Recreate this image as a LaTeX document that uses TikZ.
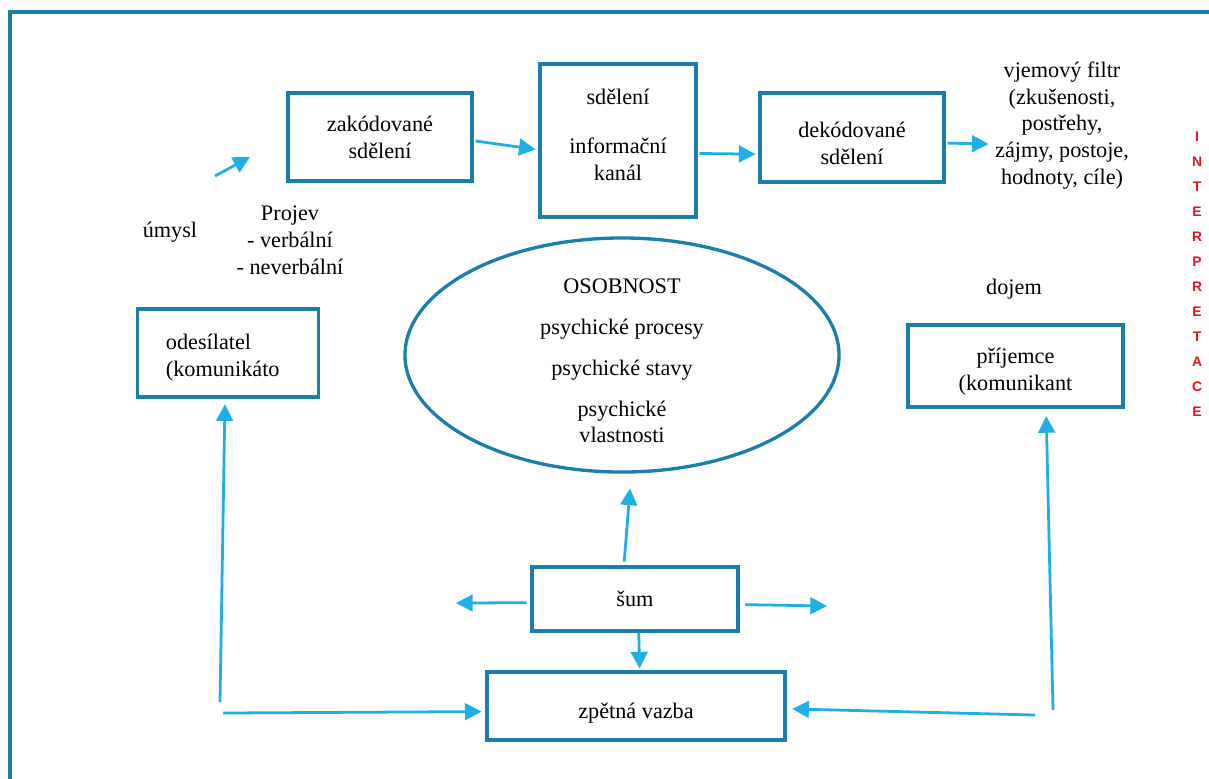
\documentclass[tikz,border=0pt]{standalone}
\usepackage{fontspec}
\setmainfont{Liberation Serif}
\newfontfamily\interfont{Liberation Sans}
\usetikzlibrary{arrows.meta,shapes.geometric}
\definecolor{boxblue}{HTML}{1A80AB}
\definecolor{arrowblue}{HTML}{1FAFE5}
\definecolor{interred}{HTML}{E8141C}
\begin{document}
\begin{tikzpicture}[x=0.54pt, y=-0.54pt, >={Triangle[length=9pt,width=9pt]},
        font=\fontsize{12}{14.5}\selectfont,
        box/.style={draw=boxblue, line width=1.8pt, align=center, inner sep=0pt},
        link/.style={->, arrowblue, line width=1.5pt}]
        \useasboundingbox (0,0) rectangle (1209,778);
        \draw[boxblue, line width=2pt] (1230,12) -- (10,12) -- (10,800);

        \node[box, minimum width=99.4pt, minimum height=47.5pt] (zakod) at (380,137) {zakódované\\sdělení};
        \node[box, minimum width=84.2pt, minimum height=82.6pt] (kanal) at (618,140.5) {sdělení\\[12pt]informační\\kanál\\[-8pt]\mbox{}};
        \node[box, minimum width=99.4pt, minimum height=48.1pt] (dekod) at (852,137.5) {\mbox{}\\dekódované\\sdělení};
        \node[align=center] (filtr) at (1062,125.5) {vjemový filtr\\(zkušenosti,\\postřehy,\\zájmy, postoje,\\hodnoty, cíle)};
        \node (umysl) at (170,232) {úmysl};
        \node[align=center] (projev) at (290,240) {Projev\\- verbální\\- neverbální};
        \node[box, align=left, text width=67pt, inner xsep=15.5pt, minimum height=47.5pt] (odes) at (228,353) {\mbox{}\\[-1.5pt]odesílatel\\(komunikáto};
        \node[ellipse, draw=boxblue, line width=1.8pt, align=center, inner xsep=0pt, inner ysep=-14pt,
              minimum width=234.4pt, minimum height=126.4pt] (osob) at (622,355)
              {\mbox{}\\OSOBNOST\\[7.5pt]psychické procesy\\[7.5pt]psychické stavy\\[7.5pt]psychické\\vlastnosti};
        \node (dojem) at (1014,289) {dojem};
        \node[box, minimum width=116.1pt, minimum height=44.3pt] (prij) at (1015.5,366) {\mbox{}\\[-0.5pt]příjemce\\(komunikant};
        \node[box, minimum width=111.2pt, minimum height=34.6pt] (sum) at (635,599) {šum};
        \node[box, minimum width=160.9pt, minimum height=36.7pt, text height=14pt, text depth=0pt] (zpet) at (636,706) {zpětná vazba};
        \node[text=interred, align=center, font=\interfont\bfseries\fontsize{7.5}{13.5}\selectfont] (interp) at (1197,274)
              {I\\N\\T\\E\\R\\P\\R\\E\\T\\A\\C\\E};

        \coordinate (umyslA) at (215,176);
        \coordinate (umyslB) at (250,157);
        \coordinate (sumL) at (456,603);
        \coordinate (sumR) at (827,606);
        \coordinate (odesFoot) at (220,702);
        \coordinate (odesCorner) at (223,713);
        \coordinate (prijCorner) at (1035,715);
        \coordinate (prijFoot) at (1053,710);

        \draw[link] (umyslA) -- (umyslB);
        \draw[link, shorten <=1pt, shorten >=1.5pt] ([yshift=-2pt]zakod.east) -- ([yshift=-5pt]kanal.west);
        \draw[link, shorten <=1pt, shorten >=1.5pt] ([yshift=-7pt]kanal.east) -- ([yshift=-9pt]dekod.west);
        \draw[link, shorten <=1pt] ([yshift=-3pt]dekod.east) -- ([yshift=-10pt]filtr.west);
        \draw[link, shorten <=2pt, shorten >=8pt] ([xshift=-6pt]sum.north) -- ([xshift=5pt]osob.south);
        \draw[link, shorten <=2pt] ([yshift=-2pt]sum.west) -- (sumL);
        \draw[link, shorten <=3pt] ([yshift=-3pt]sum.east) -- (sumR);
        \draw[link, shorten >=1pt] ([xshift=2pt]sum.south) -- ([xshift=2pt]zpet.north);
        \draw[link, shorten >=3pt] (odesFoot) -- ([xshift=-1.6pt]odes.south);
        \draw[link, shorten >=2pt] (odesCorner) -- ([yshift=-3pt]zpet.west);
        \draw[link, shorten >=3pt] (prijCorner) -- ([yshift=-1.5pt]zpet.east);
        \draw[link, shorten >=4pt] (prijFoot) -- ([xshift=16.5pt]prij.south);
\end{tikzpicture}
\end{document}
